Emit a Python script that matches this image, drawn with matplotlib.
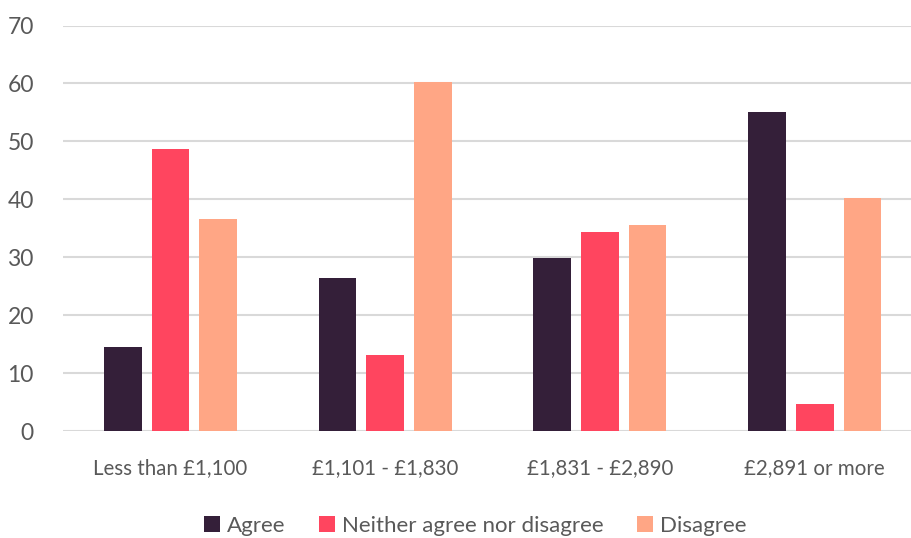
import numpy as np
import matplotlib.pyplot as plt

plt.rcParams['font.family'] = ['Lato', 'DejaVu Sans']

categories = ['Less than £1,100', '£1,101 - £1,830', '£1,831 - £2,890', '£2,891 or more']
agree = [14.5, 26.4, 29.9, 55.0]
neither = [48.7, 13.2, 34.4, 4.7]
disagree = [36.6, 60.3, 35.6, 40.3]

series = ['Agree', 'Neither agree nor disagree', 'Disagree']
colors = ['#341F39', '#FF455F', '#FFA685']

fig = plt.figure(figsize=(9.12, 5.38), dpi=100)
ax = fig.add_axes([0.0691, 0.198, 0.942, 0.7546])

x = np.arange(len(categories))
step = 0.222
width = 0.1756
for i, (vals, name, col) in enumerate(zip([agree, neither, disagree], series, colors)):
    ax.bar(x + (i - 1) * step, vals, width, color=col, label=name, zorder=3)

ax.set_xlim(-0.5, 3.5)
ax.set_ylim(0, 70)
ax.set_yticks(range(0, 71, 10))
ax.set_xticks(x)
ax.set_xticklabels(categories)
ax.yaxis.grid(True, color='#D9D9D9', linewidth=1.5, zorder=0)
ax.set_axisbelow(True)
for s in ax.spines.values():
    s.set_visible(False)
ax.tick_params(axis='y', length=0, pad=21, labelsize=16.5, labelcolor='#595959')
ax.tick_params(axis='x', length=0, pad=19, labelsize=14.8, labelcolor='#595959')

fig.legend(loc='center', bbox_to_anchor=(0.521, 0.022), ncol=3, frameon=False,
           fontsize=16, labelcolor='#595959', handlelength=0.74, handleheight=0.74,
           handletextpad=0.3, columnspacing=1.5)

fig.savefig('out.png', dpi=100)
